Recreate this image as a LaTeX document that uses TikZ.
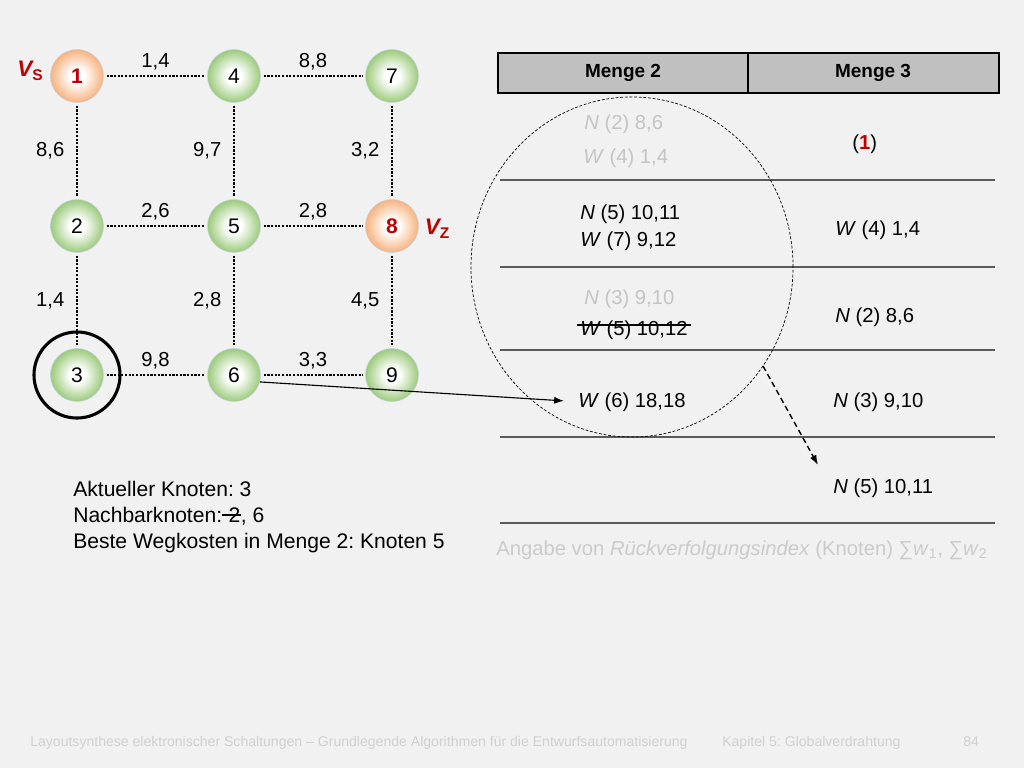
\documentclass[tikz,border=0pt]{standalone}
\usepackage{fontspec}
\setmainfont{Liberation Sans}
\usetikzlibrary{calc,arrows.meta}
\definecolor{bgcol}{HTML}{F1F1F1}
\definecolor{kgruen}{HTML}{9BCA7B}
\definecolor{korange}{HTML}{F7B27E}
\definecolor{krand}{HTML}{C5D2DE}
\definecolor{vrot}{HTML}{C00000}
\definecolor{kopfgrau}{HTML}{C0C0C0}
\definecolor{blassgrau}{HTML}{C4C4C4}
\definecolor{hinweisgrau}{HTML}{CBCBCB}
\definecolor{fussgrau}{HTML}{D0D0D0}
\definecolor{liniengrau}{HTML}{5A5A5A}
\pgfdeclareradialshading{gruenkugel}{\pgfpoint{0bp}{0bp}}{color(0bp)=(white); color(7bp)=(white); color(25bp)=(kgruen); color(50bp)=(kgruen)}
\pgfdeclareradialshading{orangekugel}{\pgfpoint{0bp}{0bp}}{color(0bp)=(white); color(7bp)=(white); color(25bp)=(korange); color(50bp)=(korange)}
\def\gr{\fontsize{14.4}{17}\selectfont}
\tikzset{
	knoten/.style={circle, minimum size=1.325cm, inner sep=0pt, shading=gruenkugel, draw=krand, line width=0.4pt, font=\fontsize{15}{15}\selectfont},
	zielknoten/.style={knoten, shading=orangekugel, text=vrot, font=\fontsize{15}{15}\selectfont\bfseries},
	kante/.style={line width=1.6pt, densely dotted, shorten <=2pt, shorten >=2pt},
	gewicht/.style={midway, inner sep=0pt, font=\gr},
	vmarke/.style={inner sep=0pt, text=vrot, font=\fontsize{16}{16}\selectfont\bfseries},
	eintrag/.style={anchor=base west, inner sep=0pt, font=\gr},
	blass/.style={eintrag, text=blassgrau},
	info/.style={anchor=base west, inner sep=0pt, font=\fontsize{15}{18}\selectfont},
	kopf/.style={inner sep=0pt, font=\fontsize{13.5}{15}\selectfont\bfseries},
	zeile/.style={line width=0.8pt, color=liniengrau},
	pfeil/.style={line width=0.8pt, -{Latex[length=7pt,width=5pt]}},
	strichpfeil/.style={line width=1pt, dash pattern=on 4pt off 2.5pt, -{Latex[length=7pt,width=5pt]}},
	fuss/.style={anchor=base west, inner sep=0pt, text=fussgrau, font=\fontsize{10}{12}\selectfont}
}

\begin{document}
\frenchspacing
\begin{tikzpicture}[x=0.025cm, y=-0.025cm]
		%%%%% START %%%%%
		
		\fill[bgcol] (0,0) rectangle (1024,768);
		
		% Knoten
		\node[zielknoten] (k1) at (77,76) {1};
		\node[knoten] (k4) at (234,76) {4};
		\node[knoten] (k7) at (392,76) {7};
		\node[knoten] (k2) at (77,226) {2};
		\node[knoten] (k5) at (234,226) {5};
		\node[zielknoten] (k8) at (392,226) {8};
		\node[knoten] (k3) at (77,375) {3};
		\node[knoten] (k6) at (234,375) {6};
		\node[knoten] (k9) at (392,375) {9};
		
		\node[vmarke] (vs) at (30,71) {\itshape V\upshape\raisebox{-0.3ex}{\fontsize{11}{11}\selectfont S}};
		\node[vmarke] (vz) at (437,229) {\itshape V\upshape\raisebox{-0.3ex}{\fontsize{11}{11}\selectfont Z}};
		
		% Kanten
		\draw[kante] (k1) -- node[gewicht, yshift=10pt] {1,4} (k4);
		\draw[kante] (k4) -- node[gewicht, yshift=10pt] {8,8} (k7);
		\draw[kante] (k2) -- node[gewicht, yshift=10pt] {2,6} (k5);
		\draw[kante] (k5) -- node[gewicht, yshift=10pt] {2,8} (k8);
		\draw[kante] (k3) -- node[gewicht, yshift=10pt] {9,8} (k6);
		\draw[kante] (k6) -- node[gewicht, yshift=10pt] {3,3} (k9);
		
		\draw[kante] (k1) -- node[gewicht, xshift=-19pt] {8,6} (k2);
		\draw[kante] (k2) -- node[gewicht, xshift=-19pt] {1,4} (k3);
		\draw[kante] (k4) -- node[gewicht, xshift=-19pt] {9,7} (k5);
		\draw[kante] (k5) -- node[gewicht, xshift=-19pt] {2,8} (k6);
		\draw[kante] (k7) -- node[gewicht, xshift=-19pt] {3,2} (k8);
		\draw[kante] (k8) -- node[gewicht, xshift=-19pt] {4,5} (k9);
		
		\draw[line width=2.2pt] (k3) circle (1.075cm);
		
		% Tabelle
		\draw[line width=1.1pt, fill=kopfgrau] (498,53) rectangle (999,93);
		\draw[line width=1.1pt] (748,53) -- (748,93);
		\node[kopf] (m2) at (623,73) {Menge 2};
		\node[kopf] (m3) at (873,73) {Menge 3};
		
		\draw[zeile] (500,180) -- (995,180);
		\draw[zeile] (500,267) -- (995,267);
		\draw[zeile] (500,350) -- (995,350);
		\draw[zeile] (500,437) -- (995,437);
		\draw[zeile] (500,523) -- (995,523);
		
		\node[blass] (n2) at (584,130) {\textit{N} (2) 8,6};
		\node[blass] (w4) at (583,164) {\textit{W} (4) 1,4};
		\node[eintrag] (n5) at (580,219) {\textit{N} (5) 10,11};
		\node[eintrag] (w7) at (580,246) {\textit{W} (7) 9,12};
		\node[blass] (n3) at (584,304) {\textit{N} (3) 9,10};
		\node[eintrag] (w5) at (580,335) {\textit{W} (5) 10,12};
		\draw[line width=0.8pt] ($(w5.base west)+(-3,-10)$) -- ($(w5.base east)+(3,-10)$);
		\node[eintrag] (w6) at (578,407) {\textit{W} (6) 18,18};
		
		\node[eintrag] (eins) at (852,150) {(\textcolor{vrot}{\bfseries 1})};
		\node[eintrag] (w4b) at (835,235) {\textit{W} (4) 1,4};
		\node[eintrag] (n2b) at (835,322) {\textit{N} (2) 8,6};
		\node[eintrag] (n3b) at (833,407) {\textit{N} (3) 9,10};
		\node[eintrag] (n5b) at (833,493) {\textit{N} (5) 10,11};
		
		\draw[line width=0.5pt, dash pattern=on 2pt off 1.3pt] (632,267) ellipse [x radius=4.025cm, y radius=4.25cm];
		
		\node[eintrag, text=hinweisgrau] (angabe) at (496,555) {Angabe von \textit{Rückverfolgungsindex} (Knoten) ∑\textit{w}\textsubscript{1}, ∑\textit{w}\textsubscript{2}};
		
		% Pfeile
		\draw[pfeil, shorten >=10pt] (k6.-15) -- (w6.west);
		\coordinate (da) at (763,366);
		\coordinate (de) at (818,465);
		\draw[strichpfeil] (da) -- (de);
		
		% Text links
		\node[info] (akt) at (73,496) {Aktueller Knoten: 3};
		\node[info] (nach) at (73,522) {Nachbarknoten:};
		\node[info] (zwei) at (nach.base east) {\ 2};
		\node[info] (sechs) at (zwei.base east) {, 6};
		\draw[line width=0.8pt] ($(zwei.base west)+(0,-7)$) -- ($(zwei.base east)+(0,-7)$);
		\node[info] (beste) at (73,548) {Beste Wegkosten in Menge 2: Knoten 5};
		
		% Fusszeile
		\node[fuss] (f1) at (30,746) {Layoutsynthese elektronischer Schaltungen – Grundlegende Algorithmen für die Entwurfsautomatisierung};
		\node[fuss] (f2) at (722,746) {Kapitel 5: Globalverdrahtung};
		\node[fuss] (f3) at (963,746) {84};
		
		%%%%% END %%%%%
\end{tikzpicture}
\end{document}
